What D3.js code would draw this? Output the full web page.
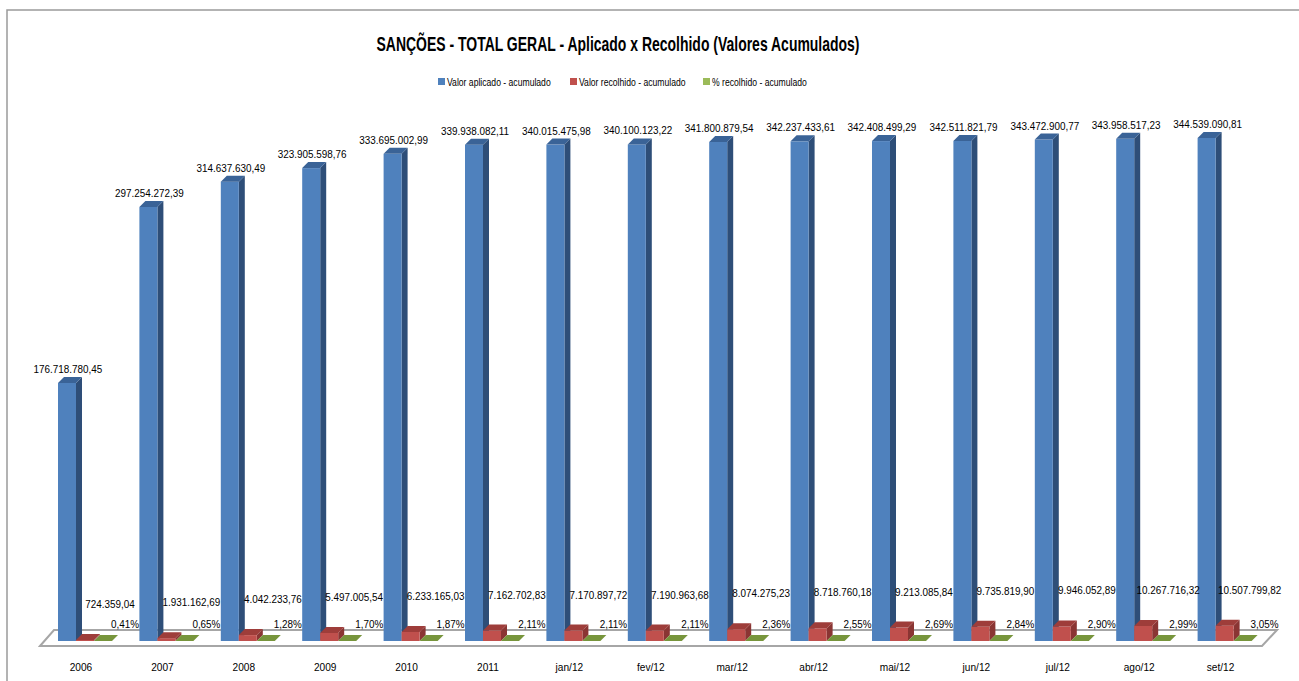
<!DOCTYPE html>
<html>
<head>
<meta charset="utf-8">
<script src="https://cdn.jsdelivr.net/npm/d3@7"></script>
<style>
  html, body { margin: 0; padding: 0; background: #fff; }
  svg { display: block; }
  text { font-family: "Liberation Sans", Arial, sans-serif; fill: #000; }
</style>
</head>
<body>
<svg id="chart" width="1299" height="681"></svg>
<script>
const title = "SANÇÕES - TOTAL GERAL - Aplicado x Recolhido (Valores Acumulados)";
const categories = ["2006","2007","2008","2009","2010","2011","jan/12","fev/12","mar/12","abr/12","mai/12","jun/12","jul/12","ago/12","set/12"];
const seriesNames = ["Valor aplicado - acumulado","Valor recolhido - acumulado","% recolhido - acumulado"];
const aplicado = [176718780.45, 297254272.39, 314637630.49, 323905598.76, 333695002.99, 339938082.11, 340015475.98, 340100123.22, 341800879.54, 342237433.61, 342408499.29, 342511821.79, 343472900.77, 343958517.23, 344539090.81];
const recolhido = [724359.04, 1931162.69, 4042233.76, 5497005.54, 6233165.03, 7162702.83, 7170897.72, 7190963.68, 8074275.23, 8718760.18, 9213085.84, 9735819.90, 9946052.89, 10267716.32, 10507799.82];
const percentual = [0.41, 0.65, 1.28, 1.70, 1.87, 2.11, 2.11, 2.11, 2.36, 2.55, 2.69, 2.84, 2.90, 2.99, 3.05];

const colors = {
  front: ["#4F81BD", "#C0504D", "#9BBB59"],
  side:  ["#2E4E78", "#8A3533", "#6E8A34"],
  top:   ["#3A6397", "#9E3D3A", "#77953C"]
};

const svg = d3.select("#chart");
const fmtBR = d3.formatLocale({decimal: ",", thousands: ".", grouping: [3], currency: ["R$", ""]});
const fmtVal = fmtBR.format(",.2f");
const fmtPct = v => fmtBR.format(".2f")(v) + "%";

// condense text horizontally (Calibri-like narrow look)
function narrow(sel, k) {
  sel.each(function() {
    const w = this.getComputedTextLength();
    d3.select(this).attr("textLength", w * k).attr("lengthAdjust", "spacingAndGlyphs");
  });
}

// frame
svg.append("rect").attr("x", 7).attr("y", 10).attr("width", 1400).attr("height", 800)
  .attr("fill", "#fff").attr("stroke", "#9a9a9a").attr("stroke-width", 1.5);

// title
svg.append("text").attr("x", 618).attr("y", 51).attr("text-anchor", "middle")
  .attr("font-size", 21).attr("font-weight", "bold")
  .attr("textLength", 483).attr("lengthAdjust", "spacingAndGlyphs")
  .text(title);

// legend
const legendX = [438, 570, 703];
seriesNames.forEach((n, i) => {
  svg.append("rect").attr("x", legendX[i]).attr("y", 78).attr("width", 7).attr("height", 7)
    .attr("fill", colors.front[i]);
  svg.append("text").attr("x", legendX[i] + 9).attr("y", 85.5).attr("font-size", 10.5).text(n)
    .call(narrow, 0.82);
});

// scales
const x0 = d3.scaleBand().domain(categories).range([35, 1256]).paddingInner(0).paddingOuter(0);
const x1 = d3.scaleBand().domain([0, 1, 2]).range([23, 77]);
const y = d3.scaleLinear().domain([0, 350e6]).range([641, 130]);
const dx = 6, dy = -6;

// floor
const fl = x0.range()[0] + 5, fr = x0.range()[1] + 6;
const fdx = 14, fdy = -16, fy = 646;
svg.append("polygon")
  .attr("points", [[fl, fy], [fl + fdx, fy + fdy], [fr + fdx + 1, fy + fdy], [fr, fy]].map(p => p.join(",")).join(" "))
  .attr("fill", "#fff").attr("stroke", "#a6a6a6").attr("stroke-width", 2);

function bar3d(g, x, w, yTop, yBot, si) {
  g.append("polygon")
    .attr("points", [[x + w, yTop], [x + w + dx, yTop + dy], [x + w + dx, yBot + dy], [x + w, yBot]].map(p => p.join(",")).join(" "))
    .attr("fill", colors.side[si]);
  g.append("rect").attr("x", x).attr("y", yTop).attr("width", w).attr("height", Math.max(0, yBot - yTop))
    .attr("fill", colors.front[si]);
  g.append("polygon")
    .attr("points", [[x, yTop], [x + dx, yTop + dy], [x + w + dx, yTop + dy], [x + w, yTop]].map(p => p.join(",")).join(" "))
    .attr("fill", colors.top[si]);
}

const barsG = svg.append("g");
const series = [aplicado, recolhido, percentual.map(p => p / 100)];
categories.forEach((c, i) => {
  series.forEach((s, si) => {
    const bx = x0(c) + x1(si);
    bar3d(barsG, bx, x1.bandwidth(), y(s[i]), y(0), si);
  });
});

// labels
const lab = svg.append("g").attr("font-size", 11.5);
categories.forEach((c, i) => {
  const bw = x1.bandwidth();
  lab.append("text").attr("x", x0(c) + x1(0) + bw / 2 + 1).attr("y", y(aplicado[i]) - 10)
    .attr("text-anchor", "middle").text(fmtVal(aplicado[i])).call(narrow, 0.86);
  lab.append("text").attr("x", x0(c) + x1(1) + bw / 2 + 25).attr("y", y(recolhido[i]) - 32)
    .attr("text-anchor", "middle").text(fmtVal(recolhido[i])).call(narrow, 0.86);
  lab.append("text").attr("x", x0(c) + x1(2) + bw / 2 + 22).attr("y", y(0) - 13)
    .attr("text-anchor", "middle").text(fmtPct(percentual[i])).call(narrow, 0.86);
  lab.append("text").attr("x", x0(c) + 46).attr("y", 671)
    .attr("text-anchor", "middle").text(c).call(narrow, 0.88);
});
</script>
</body>
</html>
